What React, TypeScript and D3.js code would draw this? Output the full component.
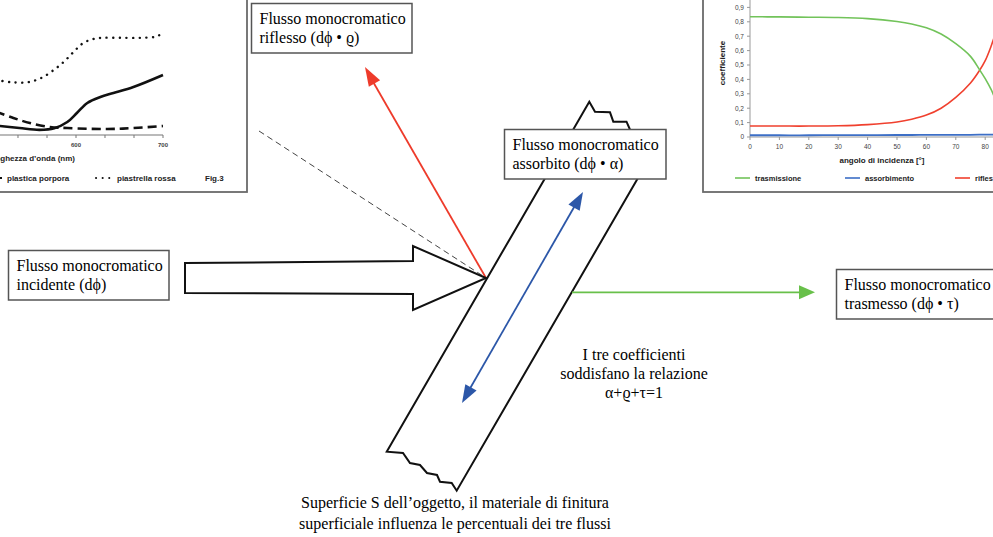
import React from "react";
import * as d3 from "d3";

// left inset: spectral reflectance (wavelength nm, %)
const dottedTile: [number, number][] = [
  [508, 46], [525, 44], [545, 44], [560, 47.5], [575, 54.5], [586, 61], [597, 69],
  [608, 76.5], [620, 80], [630, 81], [650, 81], [675, 81], [692, 82], [700, 85],
];
const solidCurve: [number, number][] = [
  [508, 7.8], [535, 5.8], [558, 4.3], [575, 5.6], [590, 10.8], [601, 18.3],
  [613, 26.7], [628, 31.7], [643, 35], [666, 40], [700, 50],
];
const dashedPlastic: [number, number][] = [
  [508, 19.5], [528, 14.2], [547, 10], [570, 6.7], [590, 5.8], [636, 5],
  [666, 5.8], [700, 7.5],
];
const leftTicksNm = [500, 533.33, 566.67, 600, 633.33, 666.67, 700];
const leftTickLabels = [600, 700];

// right inset: coefficients vs angle of incidence
const angles = [0, 10, 20, 30, 40, 50, 55, 60, 65, 70, 75, 78, 80, 82, 83, 85];
const trasmissione = [0.835, 0.834, 0.832, 0.83, 0.822, 0.802, 0.785, 0.758, 0.715, 0.648, 0.56, 0.47, 0.405, 0.33, 0.285, 0.2];
const riflessione = [0.076, 0.076, 0.076, 0.078, 0.086, 0.104, 0.123, 0.152, 0.2, 0.275, 0.375, 0.46, 0.53, 0.63, 0.69, 0.8];
const assorbimento = [0.012, 0.012, 0.012, 0.013, 0.013, 0.014, 0.014, 0.015, 0.015, 0.015, 0.015, 0.016, 0.016, 0.016, 0.016, 0.016];
const rightYTicks = [0, 0.1, 0.2, 0.3, 0.4, 0.5, 0.6, 0.7, 0.8, 0.9];
const rightXTicks = [0, 10, 20, 30, 40, 50, 60, 70, 80];

const SERIF = "'Liberation Serif', 'DejaVu Serif', serif";
const SANS = "'Liberation Sans', Arial, sans-serif";
const RED = "#ee3b2b";
const BLUE = "#2c57a8";
const GREEN = "#68c04a";

function head(x1: number, y1: number, x2: number, y2: number, len: number, hw: number) {
  const a = Math.atan2(y2 - y1, x2 - x1);
  const bx = x2 - len * Math.cos(a);
  const by = y2 - len * Math.sin(a);
  const nx = -Math.sin(a) * hw;
  const ny = Math.cos(a) * hw;
  return `${x2},${y2} ${bx + nx},${by + ny} ${bx - nx},${by - ny}`;
}

const LabelBox: React.FC<{ x: number; y: number; w: number; lines: string[] }> = ({ x, y, w, lines }) => (
  <g>
    <rect x={x} y={y} width={w} height={49.5} fill="#fff" stroke="#555" strokeWidth={1.5} />
    {lines.map((t, i) => (
      <text key={i} x={x + 8} y={y + 20 + i * 19.5} fontFamily={SERIF} fontSize={16} fill="#000">
        {t}
      </text>
    ))}
  </g>
);

export default function App() {
  const xL = d3.scaleLinear().domain([600, 700]).range([76, 163]);
  const yL = d3.scaleLinear().domain([0, 100]).range([135, 15]);
  const lineL = d3
    .line<[number, number]>()
    .x((d) => xL(d[0]))
    .y((d) => yL(d[1]))
    .curve(d3.curveCatmullRom.alpha(0.5));

  const xR = d3.scaleLinear().domain([0, 90]).range([750, 1014.6]);
  const yR = d3.scaleLinear().domain([0, 1]).range([137, -7]);
  const lineR = d3
    .line<number>()
    .x((_, i) => xR(angles[i]))
    .y((d) => yR(d))
    .curve(d3.curveCatmullRom.alpha(0.5));
  const fmt = (v: number) => (v === 0 ? "0" : d3.format(".1f")(v).replace(".", ","));

  const ip = [486, 278]; // incidence point

  return (
    <svg
      width={993}
      height={537}
      style={{ position: "absolute", left: 0, top: 0, background: "#fff" }}
    >
      {/* left inset */}
      <g>
        <rect x={-10} y={-10} width={257} height={202} fill="#fff" stroke="#6a6a6a" strokeWidth={1.8} />
        <line x1={0} x2={xL(700)} y1={135} y2={135} stroke="#777" strokeWidth={1.2} />
        {leftTicksNm.map((t) => (
          <line key={t} x1={xL(t)} x2={xL(t)} y1={135} y2={138} stroke="#777" strokeWidth={1} />
        ))}
        {leftTickLabels.map((t) => (
          <text key={t} x={xL(t)} y={147} textAnchor="middle" fontFamily={SANS} fontSize={6} fontWeight={700} fill="#444">
            {t}
          </text>
        ))}
        <path d={lineL(dottedTile) || ""} fill="none" stroke="#111" strokeWidth={2.4} strokeDasharray="0.1 6.5" strokeLinecap="round" />
        <path d={lineL(solidCurve) || ""} fill="none" stroke="#111" strokeWidth={2.6} />
        <path d={lineL(dashedPlastic) || ""} fill="none" stroke="#111" strokeWidth={2.6} strokeDasharray="9 5" />
        <text x={75} y={161} textAnchor="end" fontFamily={SANS} fontSize={8} fontWeight={700} fill="#222">
          lunghezza d’onda (nm)
        </text>
        <line x1={-12} x2={3} y1={178} y2={178} stroke="#111" strokeWidth={2.2} strokeDasharray="5 4" />
        <text x={7} y={181} fontFamily={SANS} fontSize={8} fontWeight={600} fill="#222">plastica porpora</text>
        <line x1={96} x2={111} y1={178} y2={178} stroke="#111" strokeWidth={2} strokeDasharray="0.1 6.5" strokeLinecap="round" />
        <text x={117} y={181} fontFamily={SANS} fontSize={8} fontWeight={600} fill="#222">piastrella rossa</text>
        <text x={205} y={181} fontFamily={SANS} fontSize={8} fontWeight={600} fill="#222">Fig.3</text>
      </g>

      {/* right inset */}
      <g>
        <rect x={703} y={-10} width={300} height={202} fill="#fff" stroke="#6a6a6a" strokeWidth={1.8} />
        <line x1={750} x2={1000} y1={137} y2={137} stroke="#999" strokeWidth={1} />
        <line x1={750} x2={750} y1={0} y2={137} stroke="#999" strokeWidth={1} />
        {rightYTicks.map((t) => (
          <g key={t}>
            <line x1={747} x2={750} y1={yR(t)} y2={yR(t)} stroke="#999" />
            <text x={744} y={yR(t) + 2.3} textAnchor="end" fontFamily={SANS} fontSize={6.5} fill="#444">
              {fmt(t)}
            </text>
          </g>
        ))}
        {rightXTicks.map((t) => (
          <g key={t}>
            <line x1={xR(t)} x2={xR(t)} y1={137} y2={140} stroke="#999" />
            <text x={xR(t)} y={149} textAnchor="middle" fontFamily={SANS} fontSize={6.5} fill="#444">
              {t}
            </text>
          </g>
        ))}
        <text x={882} y={163} textAnchor="middle" fontFamily={SANS} fontSize={8} fontWeight={700} fill="#222">
          angolo di incidenza [°]
        </text>
        <text transform="translate(725,63) rotate(-90)" textAnchor="middle" fontFamily={SANS} fontSize={8} fontWeight={700} fill="#222">
          coefficiente
        </text>
        <path d={lineR(assorbimento) || ""} fill="none" stroke="#3d6fc6" strokeWidth={1.8} />
        <path d={lineR(riflessione) || ""} fill="none" stroke="#f0402e" strokeWidth={1.6} />
        <path d={lineR(trasmissione) || ""} fill="none" stroke="#72c35a" strokeWidth={1.6} />
        <line x1={735} x2={750} y1={178} y2={178} stroke="#72c35a" strokeWidth={1.6} />
        <text x={755} y={181} fontFamily={SANS} fontSize={7.5} fontWeight={600} fill="#222">trasmissione</text>
        <line x1={845} x2={860} y1={178} y2={178} stroke="#3d6fc6" strokeWidth={1.6} />
        <text x={865} y={181} fontFamily={SANS} fontSize={7.5} fontWeight={600} fill="#222">assorbimento</text>
        <line x1={955} x2={970} y1={178} y2={178} stroke="#f0402e" strokeWidth={1.6} />
        <text x={975} y={181} fontFamily={SANS} fontSize={7.5} fontWeight={600} fill="#222">riflessione</text>
      </g>

      {/* dashed line towards the incidence point */}
      <line x1={259} y1={131} x2={ip[0] - 3} y2={ip[1] - 2} stroke="#444" strokeWidth={1} strokeDasharray="6 4" />

      {/* reflected arrow */}
      <line x1={ip[0]} y1={ip[1]} x2={372} y2={80} stroke={RED} strokeWidth={1.8} />
      <polygon points={head(ip[0], ip[1], 365, 67, 19, 6.5)} fill={RED} />

      {/* incident arrow */}
      <polygon
        points={`185,263 413,261 413,246 ${ip[0]},${ip[1]} 413,310 413,294 185,293`}
        fill="#fff"
        stroke="#111"
        strokeWidth={2}
        strokeLinejoin="miter"
      />

      {/* surface slab */}
      <polygon
        points="386.7,451.7 589.3,101.7 595,111.7 610,112.3 613.3,121.7 626.5,121.7 629.5,128.5 636,140 660,140 456.7,490.7 451.7,483 440,481.7 437,475 427,473 420,465 410,463 403,453"
        fill="#fff"
        fillOpacity={0}
        stroke="#111"
        strokeWidth={2}
      />

      {/* absorbed double arrow */}
      <line x1={577} y1={202} x2={468} y2={392} stroke={BLUE} strokeWidth={1.8} />
      <polygon points={head(462, 403, 583, 192, 18, 6.5)} fill={BLUE} />
      <polygon points={head(583, 192, 462, 403, 18, 6.5)} fill={BLUE} />

      {/* transmitted arrow */}
      <line x1={572} y1={292.3} x2={802} y2={292.3} stroke={GREEN} strokeWidth={1.8} />
      <polygon points={head(572, 292.3, 815, 292.3, 16, 7)} fill={GREEN} />

      <LabelBox x={251.5} y={3.5} w={160.5} lines={["Flusso monocromatico", "riflesso (dϕ • ϱ)"]} />
      <LabelBox x={504.5} y={129.5} w={161.5} lines={["Flusso monocromatico", "assorbito (dϕ • α)"]} />
      <LabelBox x={8.5} y={250.5} w={160.5} lines={["Flusso monocromatico", "incidente (dϕ)"]} />
      <LabelBox x={836.5} y={269.5} w={170} lines={["Flusso monocromatico", "trasmesso (dϕ • τ)"]} />

      <g fontFamily={SERIF} fontSize={16} fill="#000" textAnchor="middle">
        <text x={634} y={360}>I tre coefficienti</text>
        <text x={634} y={379}>soddisfano la relazione</text>
        <text x={634} y={398}>α+ϱ+τ=1</text>
        <text x={455} y={508}>Superficie S dell’oggetto, il materiale di finitura</text>
        <text x={455} y={529}>superficiale influenza le percentuali dei tre flussi</text>
      </g>
    </svg>
  );
}
